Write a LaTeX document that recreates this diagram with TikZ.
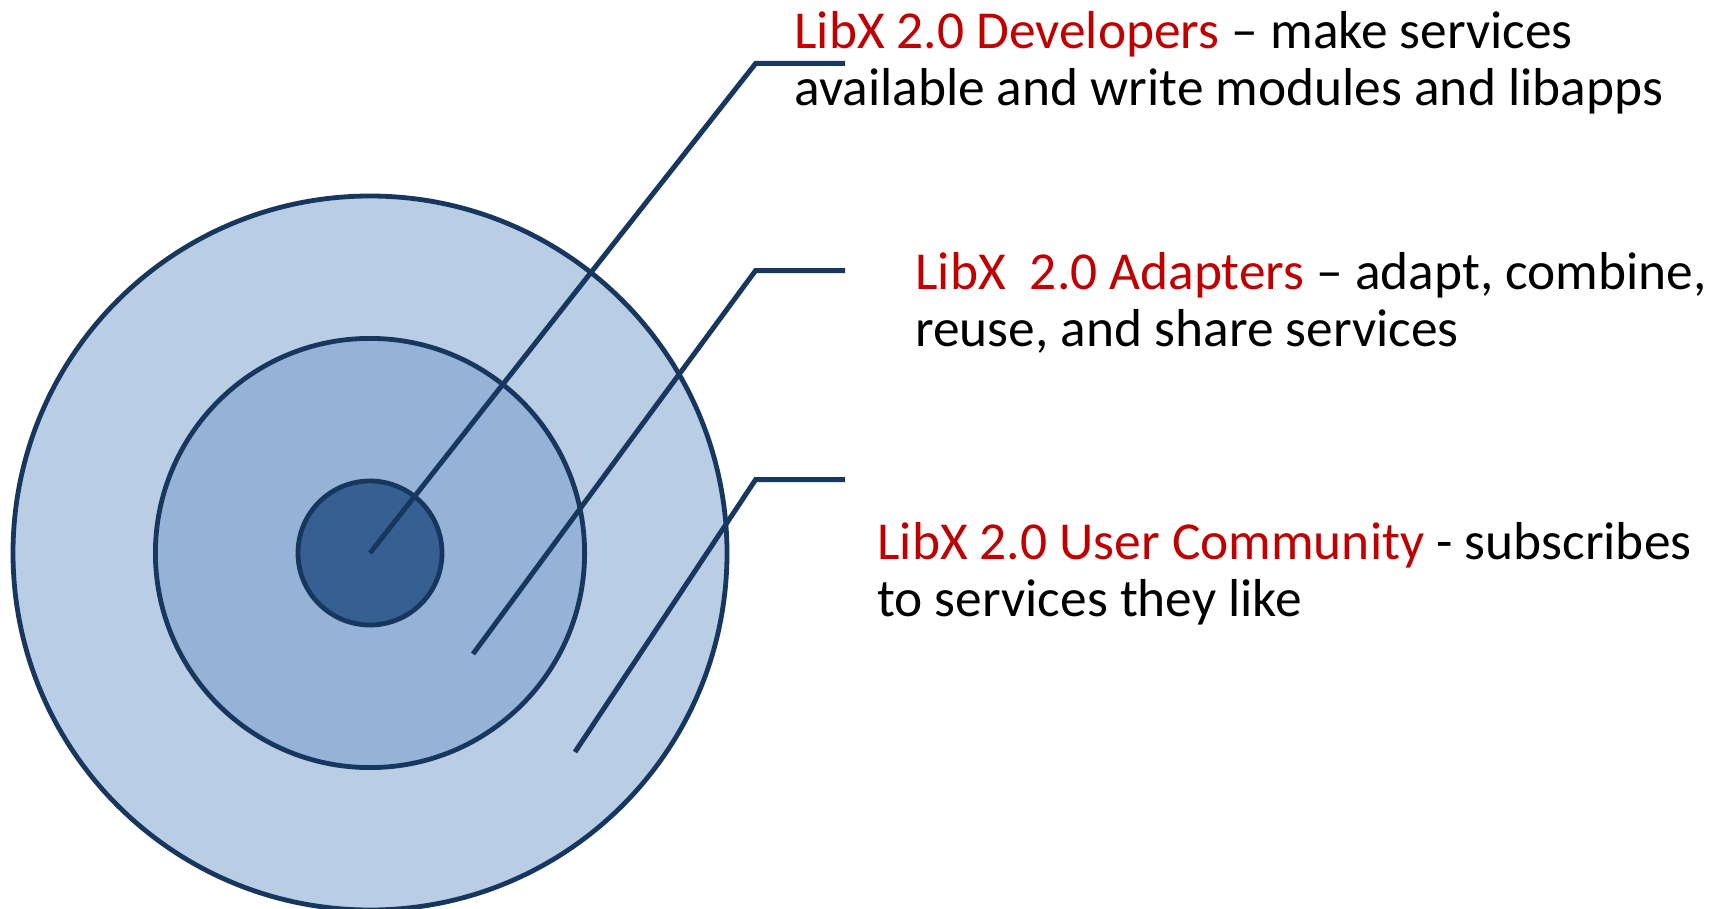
\documentclass[tikz,border=0pt]{standalone}
\usepackage{fontspec}
\setmainfont{Carlito}
\usetikzlibrary{positioning}

\definecolor{ringlight}{HTML}{B9CDE5}
\definecolor{ringmid}{HTML}{95B3D7}
\definecolor{ringdark}{HTML}{376092}
\definecolor{navy}{HTML}{17375E}
\definecolor{libred}{HTML}{C00000}

\begin{document}
\begin{tikzpicture}[x=0.5pt, y=-0.5pt,
                    ring/.style={circle,draw=navy,line width=2.4pt,inner sep=0pt},
                    callout/.style={draw=navy,line width=2.5pt},
                    blurb/.style={anchor=base west,align=left,inner sep=0pt,
                                  font=\fontsize{26.7}{28.5}\selectfont}]
  \useasboundingbox (0,0) rectangle (1717,909);

  % the three rings
  \node[ring,fill=ringlight,minimum size=357pt] (outer) at (370,553) {};
  \node[ring,fill=ringmid,minimum size=214.6pt] (middle) at (outer.center) {};
  \node[ring,fill=ringdark,minimum size=72pt] (inner) at (outer.center) {};

  % callout points
  \coordinate (adp start) at (473,654);
  \coordinate (usr start) at (575,752);
  \coordinate (dev bend) at (755.6,63.5);
  \coordinate (adp bend) at (755.6,270.5);
  \coordinate (usr bend) at (755.6,479.6);
  \coordinate[right=44.7pt of dev bend] (dev end);
  \coordinate[right=44.7pt of adp bend] (adp end);
  \coordinate[right=44.7pt of usr bend] (usr end);

  \draw[callout] (inner.center) -- (dev bend) -- (dev end);
  \draw[callout] (adp start) -- (adp bend) -- (adp end);
  \draw[callout] (usr start) -- (usr bend) -- (usr end);

  % texts (base = last line)
  \node[blurb] (dev) at (794,106)
    {\textcolor{libred}{LibX 2.0 Developers} – make services\\available and write modules and libapps};
  \node[blurb] (adp) at (915,346)
    {\textcolor{libred}{LibX\ \ 2.0 Adapters} – adapt, combine,\\reuse, and share services};
  \node[blurb] (usr) at (877,616.5)
    {\textcolor{libred}{LibX 2.0 User Community} - subscribes\\to services they like};
\end{tikzpicture}
\end{document}
